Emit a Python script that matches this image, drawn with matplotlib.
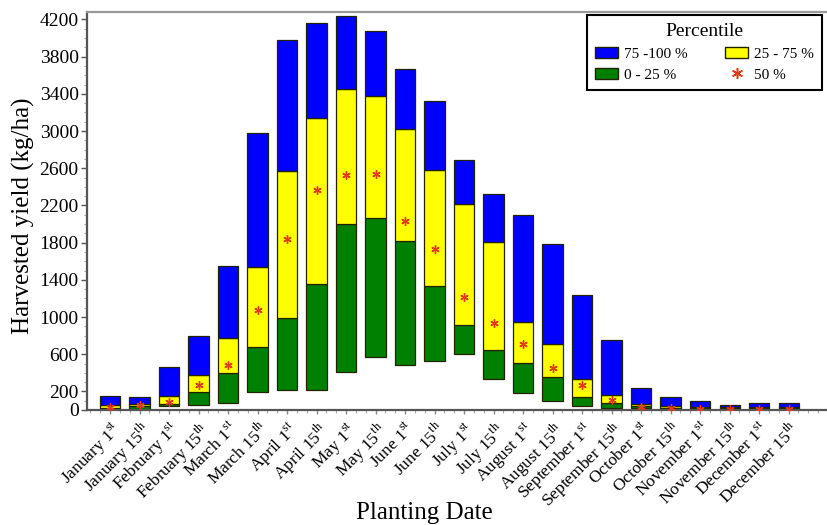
import matplotlib
matplotlib.use("Agg")
import matplotlib.pyplot as plt
import numpy as np
from matplotlib.patches import Patch
from matplotlib.lines import Line2D
from matplotlib.ticker import MultipleLocator

plt.rcParams['font.family'] = ['Liberation Serif', 'DejaVu Serif']
plt.rcParams['mathtext.fontset'] = 'custom'
plt.rcParams['mathtext.rm'] = 'Liberation Serif'

months = ["January", "January", "February", "February", "March", "March",
          "April", "April", "May", "May", "June", "June",
          "July", "July", "August", "August", "September", "September",
          "October", "October", "November", "November", "December", "December"]
days = ["1", "15"] * 12
suffix = ["st", "th"] * 12

# percentiles of harvested yield (kg/ha)
y_min = [10, 15, 40, 50, 70, 190, 215, 210, 405, 565, 485, 525,
         605, 330, 185, 95, 45, 25, 20, 15, 10, 10, 10, 10]
p25 = [25, 40, 60, 190, 395, 675, 985, 1360, 2005, 2070, 1820, 1330,
       910, 640, 510, 350, 145, 75, 40, 25, 20, 20, 20, 20]
p75 = [55, 65, 155, 380, 770, 1540, 2570, 3135, 3450, 3380, 3025, 2585,
       2210, 1805, 950, 715, 330, 165, 65, 45, 30, 35, 35, 35]
y_max = [150, 140, 460, 795, 1545, 2980, 3975, 4160, 4240, 4080, 3665, 3325,
         2690, 2320, 2100, 1790, 1235, 755, 235, 145, 100, 55, 70, 80]
median = [30, 50, 90, 265, 480, 1080, 1835, 2370, 2530, 2540, 2035, 1735,
          1215, 935, 710, 455, 265, 112, 28, 20, 15, 15, 15, 15]

ytick_vals = [0, 200, 600, 1000, 1400, 1800, 2200, 2600, 3000, 3400, 3800, 4200]

labels = [m + " " + d + "$^{\\mathrm{" + s + "}}$" for m, d, s in zip(months, days, suffix)]

fig = plt.figure(figsize=(8.27, 5.25), dpi=100)
ax = fig.add_axes([87 / 827, 1 - 410 / 525, (826 - 87) / 827, (410 - 12) / 525])

x = np.arange(len(labels))
lo = np.array(y_min)
q1 = np.array(p25)
q3 = np.array(p75)
hi = np.array(y_max)
w = 0.68
edge = dict(edgecolor='#222200', linewidth=0.9)
ax.bar(x, q1 - lo, w, bottom=lo, color='#008000', **edge)
ax.bar(x, q3 - q1, w, bottom=q1, color='#ffff00', **edge)
ax.bar(x, hi - q3, w, bottom=q3, color='#0000ff', **edge)
ax.plot(x, median, linestyle='none', marker=(6, 2, 0), markersize=6,
        markeredgewidth=1.0, color='#e03a1c', zorder=5)

ax.set_xlim(-0.78, 24.27)
ax.set_ylim(0, 4280)
ax.set_yticks(ytick_vals)
ax.yaxis.set_minor_locator(MultipleLocator(100))
ax.set_xticks(x)
ax.set_xticklabels(labels, rotation=45, ha='right', rotation_mode='anchor', fontsize=12.5)
ax.xaxis.set_minor_locator(MultipleLocator(1 / 3))
ax.tick_params(axis='y', labelsize=14, length=4, width=1, color='#555555', pad=2)
ax.tick_params(axis='x', length=3, width=1, color='#888888', pad=3)
ax.tick_params(which='minor', length=2, width=0.8, color='#aaaaaa')

for s in ['left', 'bottom']:
    ax.spines[s].set_color('#555555')
    ax.spines[s].set_linewidth(1.6)
ax.spines['top'].set_color('#999999')
ax.spines['top'].set_linewidth(1.6)
ax.spines['right'].set_visible(False)

fig.text(23 / 827, 1 - 216 / 525, "Harvested yield (kg/ha)", rotation=90,
         ha='center', va='center', fontsize=18)
fig.text(424 / 827, 1 - 513 / 525, "Planting Date", ha='center', va='center', fontsize=18)

handles = [Patch(facecolor='#0000ff', edgecolor='#222200'),
           Patch(facecolor='#008000', edgecolor='#222200'),
           Patch(facecolor='#ffff00', edgecolor='#222200'),
           Line2D([], [], linestyle='none', marker=(6, 2, 0), markersize=8,
                  markeredgewidth=1.1, color='#e03a1c')]
leg_labels = ["75 -100 %", "0 - 25 %", "25 - 75 %", "50 %"]
leg = ax.legend(handles, leg_labels, ncol=2, title="Percentile", fontsize=11,
                title_fontsize=14, loc='upper right', bbox_to_anchor=(0.9946, 0.992),
                borderaxespad=0, fancybox=False, edgecolor='black', framealpha=1,
                borderpad=0.5, labelspacing=0.45, handlelength=1.5, handleheight=0.8,
                handletextpad=0.4, columnspacing=2.5)
leg.get_frame().set_linewidth(1.5)

fig.savefig("out.png", dpi=100)
